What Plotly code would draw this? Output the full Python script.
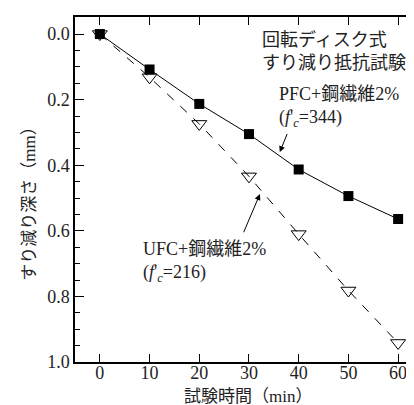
import plotly.graph_objects as go

time_min = [0, 10, 20, 30, 40, 50, 60]
pfc_depth = [0.0, 0.108, 0.213, 0.305, 0.413, 0.494, 0.564]
ufc_depth = [0.0, 0.132, 0.274, 0.434, 0.61, 0.782, 0.942]
x_ticks = [0, 10, 20, 30, 40, 50, 60]
y_ticks = [0.0, 0.2, 0.4, 0.6, 0.8, 1.0]
y_tick_labels = ["0.0", "0.2", "0.4", "0.6", "0.8", "1.0"]

SERIF = "Liberation Serif, Noto Sans CJK JP, serif"

fig = go.Figure()
fig.add_trace(go.Scatter(
    x=time_min, y=ufc_depth, mode="lines+markers",
    line=dict(color="black", width=1, dash="dash"),
    marker=dict(symbol="triangle-down-open", size=13, color="black", line=dict(width=1)),
    showlegend=False))
fig.add_trace(go.Scatter(
    x=time_min, y=pfc_depth, mode="lines+markers",
    line=dict(color="black", width=1),
    marker=dict(symbol="square", size=10, color="black"),
    showlegend=False))

fig.add_annotation(x=32.2, y=0.052, xref="x", yref="y", xanchor="left", yanchor="middle",
                   text="回転ディスク式<br>すり減り抵抗試験", align="left", showarrow=False,
                   font=dict(size=18, family=SERIF, color="#222"))
fig.add_annotation(x=35.6, y=0.222, xref="x", yref="y", xanchor="left", yanchor="middle",
                   text="PFC+鋼繊維2%<br>(<i>f</i>'<sub><i>c</i></sub>=344)", align="left", showarrow=False,
                   font=dict(size=18, family=SERIF, color="#222"))
fig.add_annotation(x=8.2, y=0.695, xref="x", yref="y", xanchor="left", yanchor="middle",
                   text="UFC+鋼繊維2%<br>(<i>f</i>'<sub><i>c</i></sub>=216)", align="left", showarrow=False,
                   font=dict(size=18, family=SERIF, color="#222"))
# arrows
fig.add_annotation(x=36.2, y=0.36, ax=37.8, ay=0.30, xref="x", yref="y", axref="x", ayref="y",
                   text="", showarrow=True, arrowhead=2, arrowsize=1.2, arrowwidth=1, arrowcolor="black")
fig.add_annotation(x=32.2, y=0.488, ax=28.8, ay=0.609, xref="x", yref="y", axref="x", ayref="y",
                   text="", showarrow=True, arrowhead=2, arrowsize=1.2, arrowwidth=1, arrowcolor="black")

# axis titles
fig.add_annotation(x=0.506, y=-0.099, xref="paper", yref="paper", xanchor="center", yanchor="middle",
                   text="試験時間（min）", showarrow=False,
                   font=dict(size=17, family=SERIF, color="#222"))
fig.add_annotation(x=-0.132, y=0.47, xref="paper", yref="paper", xanchor="center", yanchor="middle",
                   text="すり減り深さ（mm）", showarrow=False, textangle=-90,
                   font=dict(size=17, family=SERIF, color="#222"))

fig.update_xaxes(range=[-5, 63.8], tickvals=x_ticks, ticks="inside", ticklen=8, tickwidth=1.3,
                 tickcolor="black", showline=True, linecolor="black", linewidth=1.5, mirror="ticks",
                 showgrid=False, zeroline=False, automargin=False, ticklabelstandoff=-6,
                 tickfont=dict(size=18, family=SERIF, color="#222"))
fig.update_yaxes(range=[1.0, -0.052], tickvals=y_ticks, ticktext=y_tick_labels, ticks="inside", ticklen=9,
                 tickwidth=1.3, tickcolor="black", showline=True, linecolor="black", linewidth=1.5,
                 mirror="ticks", showgrid=False, zeroline=False, automargin=False,
                 minor=dict(dtick=0.05, ticks="inside", ticklen=5, tickwidth=1, tickcolor="black"),
                 tickfont=dict(size=18, family=SERIF, color="#222"))

fig.update_layout(width=414, height=405, margin=dict(l=67, r=5, t=9, b=51),
                  plot_bgcolor="white", paper_bgcolor="white")
fig.write_html("out.html")
